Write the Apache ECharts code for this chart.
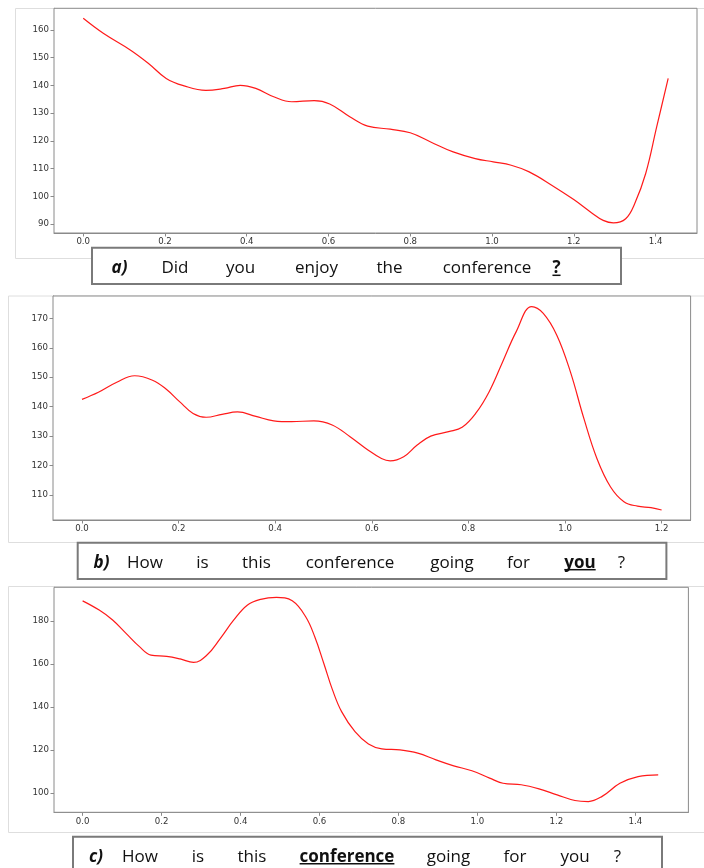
<!DOCTYPE html>
<html><head><meta charset="utf-8">
<script src="https://cdn.jsdelivr.net/npm/echarts@6/dist/echarts.min.js"></script>
<style>html,body{margin:0;padding:0;background:#fff}#c{width:704px;height:868px}</style>
</head><body><div id="c"></div>
<script>
// ---- data ----
const xA = [0,0.049,0.115,0.159,0.203,0.247,0.30,0.345,0.384,0.422,0.466,0.51,0.565,0.603,0.652,0.696,0.751,0.80,0.85,0.905,0.959,1.003,1.047,1.091,1.146,1.2,1.244,1.272,1.297,1.327,1.349,1.376,1.403,1.431];
const yA = [164.2,158.8,152.8,148,142.5,139.8,138.2,138.9,140,138.9,135.9,134.1,134.5,133.3,128.7,125.3,124.2,122.9,119.6,116,113.6,112.4,111.2,108.8,104,98.8,94,91.3,90.4,91.9,97.3,108.2,125.1,142.5];
const xB = [0,0.034,0.072,0.109,0.146,0.174,0.202,0.23,0.257,0.29,0.322,0.36,0.397,0.434,0.48,0.518,0.555,0.592,0.62,0.638,0.666,0.694,0.722,0.759,0.787,0.815,0.843,0.871,0.899,0.931,0.955,0.983,1.011,1.039,1.066,1.094,1.122,1.15,1.178,1.2];
const yB = [142.5,144.9,148.3,150.5,149,146,141.7,137.7,136.4,137.4,138.2,136.7,135.2,134.9,135.2,133.8,129.8,125.3,122.4,121.6,123,127,130,131.5,133,137.7,145.1,155.3,165.5,174,171.7,164.3,151.9,136,122.4,112.8,107.7,106.2,105.7,104.9];
const xC = [0,0.042,0.076,0.11,0.144,0.173,0.213,0.247,0.281,0.315,0.349,0.383,0.417,0.451,0.491,0.531,0.565,0.588,0.611,0.633,0.656,0.69,0.724,0.758,0.804,0.849,0.895,0.94,0.986,1.031,1.065,1.111,1.156,1.202,1.247,1.281,1.316,1.361,1.407,1.458];
const yC = [189.4,185.1,180.5,174.3,168.1,164.2,163.6,162.4,160.8,164.2,172,180.5,187.4,190.1,191,189.4,182,172.7,160.3,148,137.9,128.6,122.9,120.6,120.1,118.6,115.5,112.7,110.4,107,104.6,103.9,102,99.2,96.6,96.1,98.5,104.6,107.7,108.5];

const xTicksA = [0,0.2,0.4,0.6,0.8,1.0,1.2,1.4];
const yTicksA = [90,100,110,120,130,140,150,160];
const xTicksB = [0,0.2,0.4,0.6,0.8,1.0,1.2];
const yTicksB = [110,120,130,140,150,160,170];
const xTicksC = [0,0.2,0.4,0.6,0.8,1.0,1.2,1.4];
const yTicksC = [100,120,140,160,180];

const sentenceA = ['a)','Did','you','enjoy','the','conference','?'];
const sentenceB = ['b)','How','is','this','conference','going','for','you','?'];
const sentenceC = ['c)','How','is','this','conference','going','for','you','?'];
const emphA = 6, emphB = 7, emphC = 4;

// ---- layout ----
const panels = [
  {grid:{left:54,right:7,top:8.3,height:224.7}, xr:[-0.0715,1.5015], yr:[86.75,167.8], xt:xTicksA, yt:yTicksA, xs:xA, ys:yA,
   frame:[15,8,700,250], box:[92,247.7,529,36.3], words:sentenceA, centers:[119.5,175,240.5,316.5,389.5,487,556.5], base:273.3, emph:emphA},
  {grid:{left:53,right:13.4,top:296,height:224}, xr:[-0.06,1.26], yr:[101.5,177.6], xt:xTicksB, yt:yTicksB, xs:xB, ys:yB,
   frame:[8,295.5,700,246.5], box:[77.7,542.7,588.7,36.3], words:sentenceB, centers:[101.5,145,202.5,256.5,350,452,518.5,580,621.5], base:567.7, emph:emphB},
  {grid:{left:54,right:15.6,top:587.3,height:225}, xr:[-0.0725,1.5345], yr:[91.1,195.7], xt:xTicksC, yt:yTicksC, xs:xC, ys:yC,
   frame:[8,586,700,246], box:[73,836.7,589,40], words:sentenceC, centers:[96,140,198,252,347,448.5,515,575,617.5], base:861.7, emph:emphC}
];

const axisColor = '#8a8a8a';
const lblStyle = {color:'#333', fontFamily:'DejaVu Sans', fontSize:8.6};
const option = {animation:false, backgroundColor:'#fff', grid:[], xAxis:[], yAxis:[], series:[], graphic:[]};
const FONT = 'Open Sans';
const FS = 17;

function textWidth(t, weight, style){
  const cv = document.createElement('canvas').getContext('2d');
  cv.font = (style||'normal') + ' ' + (weight||'normal') + ' ' + FS + 'px "' + FONT + '"';
  return cv.measureText(t).width;
}

panels.forEach((p,i)=>{
  option.graphic.push({type:'rect', z:-10, shape:{x:p.frame[0]+0.5,y:p.frame[1]+0.5,width:p.frame[2],height:p.frame[3]}, style:{fill:'#fff', stroke:'#dedede', lineWidth:1}});
  option.grid.push(Object.assign({show:true, borderColor:axisColor, borderWidth:1, backgroundColor:'#fff', z:1}, p.grid));
  option.xAxis.push({type:'value', gridIndex:i, min:p.xr[0], max:p.xr[1], splitLine:{show:false},
    axisLine:{show:true, onZero:false, lineStyle:{color:axisColor}},
    axisTick:{show:true, inside:false, length:3.5, lineStyle:{color:axisColor}, customValues:p.xt},
    axisLabel:Object.assign({margin:4.5, customValues:p.xt, formatter:v=>v.toFixed(1)}, lblStyle)});
  option.yAxis.push({type:'value', gridIndex:i, min:p.yr[0], max:p.yr[1], splitLine:{show:false},
    axisLine:{show:true, onZero:false, lineStyle:{color:axisColor}},
    axisTick:{show:true, inside:false, length:3.5, lineStyle:{color:axisColor}, customValues:p.yt},
    axisLabel:Object.assign({margin:5, customValues:p.yt, formatter:v=>String(v)}, lblStyle)});
  option.series.push({type:'line', xAxisIndex:i, yAxisIndex:i, data:p.xs.map((x,k)=>[x,p.ys[k]]),
    smooth:0.4, showSymbol:false, lineStyle:{color:'#ff1a1a', width:1.2}, silent:true, z:5});
  option.graphic.push({type:'rect', z:50, shape:{x:p.box[0],y:p.box[1],width:p.box[2],height:p.box[3]}, style:{fill:'#fff', stroke:'#7a7a7a', lineWidth:2}});
  p.words.forEach((w,k)=>{
    const isLabel = k===0, isEmph = k===p.emph;
    const weight = (isLabel||isEmph)?'bold':'normal';
    const fstyle = isLabel?'italic':'normal';
    option.graphic.push({type:'text', z:51, x:p.centers[k], y:p.base-5,
      style:{text:w, fontFamily:FONT, fontSize:FS, fontWeight:weight, fontStyle:fstyle, fill:'#111', textAlign:'center', textVerticalAlign:'middle'}});
    if(isEmph){
      const tw = textWidth(w, weight, fstyle);
      option.graphic.push({type:'line', z:51, shape:{x1:p.centers[k]-tw/2, y1:p.base+2, x2:p.centers[k]+tw/2, y2:p.base+2}, style:{stroke:'#111', lineWidth:1.5}});
    }
  });
});

const chart = echarts.init(document.getElementById('c'), null, {renderer:'canvas'});
chart.setOption(option);
</script></body></html>
